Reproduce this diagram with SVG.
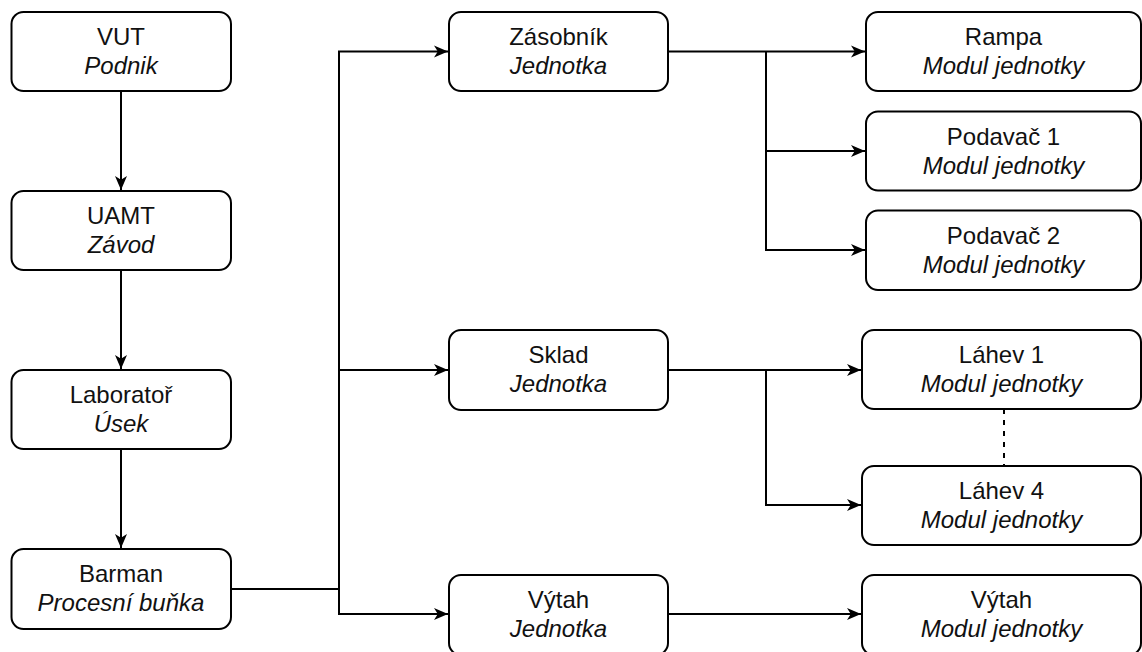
<svg xmlns="http://www.w3.org/2000/svg" width="1142" height="652" viewBox="0 0 1142 652">
  <defs>
    <marker id="arrow" viewBox="0 0 15 13" refX="14" refY="6.5" markerWidth="15" markerHeight="13" markerUnits="userSpaceOnUse" orient="auto">
      <path d="M14,6.5 L0,0.5 L3.8,6.5 L0,12.5 Z" fill="#000"/>
    </marker>
    <style>
      .box { fill: #fff; stroke: #000; stroke-width: 2; }
      .t { font-family: "Liberation Sans", Arial, sans-serif; font-size: 24px; fill: #111; text-anchor: middle; }
      .i { font-style: italic; }
      .edge { fill: none; stroke: #000; stroke-width: 2; }
      .dash { stroke-dasharray: 5 6; }
    </style>
  </defs>
  <rect width="1142" height="652" fill="#fff"/>

  <!-- connectors -->
  <g id="connectors">
    <path class="edge" d="M121,91 V190" marker-end="url(#arrow)"/>
    <path class="edge" d="M121,270 V369" marker-end="url(#arrow)"/>
    <path class="edge" d="M121,449 V548" marker-end="url(#arrow)"/>
    <path class="edge" d="M231,589 H339 V51.5 H448" marker-end="url(#arrow)"/>
    <path class="edge" d="M339,370 H448" marker-end="url(#arrow)"/>
    <path class="edge" d="M339,589 V614 H448" marker-end="url(#arrow)"/>
    <path class="edge" d="M668,51.5 H865" marker-end="url(#arrow)"/>
    <path class="edge" d="M766,51.5 V151 H865" marker-end="url(#arrow)"/>
    <path class="edge" d="M766,151 V250 H865" marker-end="url(#arrow)"/>
    <path class="edge" d="M668,370 H861" marker-end="url(#arrow)"/>
    <path class="edge" d="M766,370 V505 H861" marker-end="url(#arrow)"/>
    <path class="edge" d="M668,614 H861" marker-end="url(#arrow)"/>
    <path class="edge dash" d="M1004,409 V466"/>
  </g>

  <!-- left column -->
  <g id="vut">
    <rect class="box" x="11.5" y="12" width="219.5" height="79" rx="12"/>
    <text class="t" x="121" y="45">VUT</text>
    <text class="t i" x="121" y="74">Podnik</text>
  </g>
  <g id="uamt">
    <rect class="box" x="11.5" y="191" width="219.5" height="79" rx="12"/>
    <text class="t" x="121" y="224">UAMT</text>
    <text class="t i" x="121" y="253">Závod</text>
  </g>
  <g id="laborator">
    <rect class="box" x="11.5" y="370" width="219.5" height="79" rx="12"/>
    <text class="t" x="121" y="403">Laboratoř</text>
    <text class="t i" x="121" y="432">Úsek</text>
  </g>
  <g id="barman">
    <rect class="box" x="11.5" y="549" width="219.5" height="80" rx="12"/>
    <text class="t" x="121" y="582">Barman</text>
    <text class="t i" x="121" y="611">Procesní buňka</text>
  </g>

  <!-- middle column -->
  <g id="zasobnik">
    <rect class="box" x="449" y="12" width="219" height="79" rx="12"/>
    <text class="t" x="558.5" y="45">Zásobník</text>
    <text class="t i" x="558.5" y="74">Jednotka</text>
  </g>
  <g id="sklad">
    <rect class="box" x="449" y="330" width="219" height="80" rx="12"/>
    <text class="t" x="558.5" y="363">Sklad</text>
    <text class="t i" x="558.5" y="392">Jednotka</text>
  </g>
  <g id="vytah">
    <rect class="box" x="449" y="575" width="219" height="80" rx="12"/>
    <text class="t" x="558.5" y="608">Výtah</text>
    <text class="t i" x="558.5" y="637">Jednotka</text>
  </g>

  <!-- right column -->
  <g id="rampa">
    <rect class="box" x="866" y="12" width="275" height="79" rx="12"/>
    <text class="t" x="1003.5" y="45">Rampa</text>
    <text class="t i" x="1003.5" y="74">Modul jednotky</text>
  </g>
  <g id="podavac1">
    <rect class="box" x="866" y="111.5" width="275" height="79" rx="12"/>
    <text class="t" x="1003.5" y="144.5">Podavač 1</text>
    <text class="t i" x="1003.5" y="173.5">Modul jednotky</text>
  </g>
  <g id="podavac2">
    <rect class="box" x="866" y="210.5" width="275" height="79.5" rx="12"/>
    <text class="t" x="1003.5" y="243.5">Podavač 2</text>
    <text class="t i" x="1003.5" y="272.5">Modul jednotky</text>
  </g>
  <g id="lahev1">
    <rect class="box" x="862" y="330" width="279" height="79" rx="12"/>
    <text class="t" x="1001.5" y="363">Láhev 1</text>
    <text class="t i" x="1001.5" y="392">Modul jednotky</text>
  </g>
  <g id="lahev4">
    <rect class="box" x="862" y="466" width="279" height="79" rx="12"/>
    <text class="t" x="1001.5" y="499">Láhev 4</text>
    <text class="t i" x="1001.5" y="528">Modul jednotky</text>
  </g>
  <g id="vytah-modul">
    <rect class="box" x="862" y="575" width="279" height="80" rx="12"/>
    <text class="t" x="1001.5" y="608">Výtah</text>
    <text class="t i" x="1001.5" y="637">Modul jednotky</text>
  </g>
</svg>
